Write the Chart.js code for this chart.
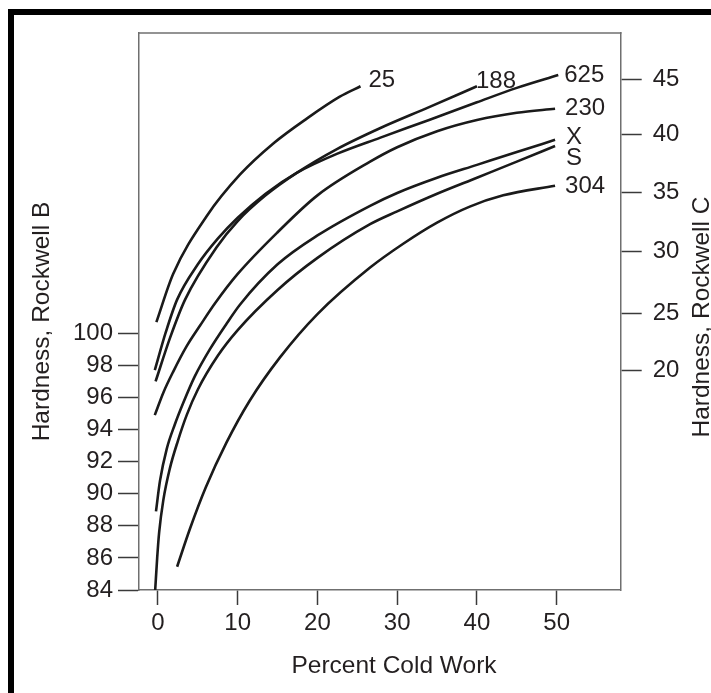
<!DOCTYPE html>
<html><head><meta charset="utf-8">
<script src="https://cdn.jsdelivr.net/npm/chart.js@4"></script>
<style>
html,body{margin:0;padding:0;background:#fff;overflow:hidden;width:711px;height:693px;}
#frame{position:absolute;left:8px;top:9px;width:800px;height:800px;border-left:6px solid #000;border-top:6px solid #000;}
#wrap{position:absolute;left:0;top:0;width:711px;height:693px;}
</style></head><body>
<div id="frame"></div>
<div id="wrap"><canvas id="c" width="711" height="693"></canvas></div>
<script>
// ---- data ----
const curveNames = ['25', '188', '625', '230', 'X', 'S', '304'];

const x25  = [-0.2, 1.9, 6.1, 10.3, 14.5, 18.7, 22.8, 25.4];
const y25  = [100.7, 103.7, 107.3, 109.9, 111.85, 113.4, 114.75, 115.4];

const x188 = [-0.3, 1.5, 3.4, 7.4, 10, 13.5, 17.4, 22.5, 27.9, 34, 40];
const y188 = [97.0, 99.7, 102.1, 105.4, 107.0, 108.6, 110.0, 111.5, 112.8, 114.1, 115.4];

const x625 = [-0.4, 1, 2.4, 5, 7.5, 10, 13.5, 17.4, 22.5, 27.9, 34, 40, 45, 50.2];
const y625 = [97.7, 100.1, 102.1, 104.3, 105.9, 107.2, 108.7, 110.0, 111.2, 112.2, 113.3, 114.4, 115.3, 116.1];

const x230 = [-0.4, 0.67, 1.9, 3.6, 5.3, 7.2, 10, 15, 20, 26.6, 30, 35, 40, 45, 49.8];
const y230 = [94.9, 96.3, 97.6, 99.2, 100.5, 101.9, 103.7, 106.3, 108.6, 110.7, 111.6, 112.6, 113.3, 113.75, 114.0];

const xX   = [-0.25, 0.25, 1.1, 2.1, 3.2, 4.6, 6.5, 8.6, 10.3, 15, 20, 26.6, 30, 35, 40, 45, 49.8];
const yX   = [88.9, 90.8, 92.8, 94.3, 95.7, 97.3, 99.0, 100.6, 101.8, 104.3, 106.1, 107.95, 108.75, 109.7, 110.5, 111.3, 112.06];

const xS   = [-0.35, -0.1, 0.15, 0.67, 1.5, 2.5, 3.6, 5, 7.5, 10, 15, 20, 26.6, 30, 35, 40, 45, 49.8];
const yS   = [84.0, 86.0, 87.6, 89.6, 91.6, 93.3, 94.9, 96.5, 98.6, 100.2, 102.7, 104.7, 106.8, 107.6, 108.7, 109.7, 110.7, 111.68];

const x304 = [2.4, 4, 6, 8.6, 11.5, 15.3, 20, 26.6, 30.8, 35, 39.1, 43.3, 49.8];
const y304 = [85.45, 87.8, 90.4, 93.2, 95.8, 98.5, 101.2, 104.1, 105.6, 106.9, 107.9, 108.6, 109.2];

const xTicks = [0, 10, 20, 30, 40, 50];
const leftTicks = [84, 86, 88, 90, 92, 94, 96, 98, 100];
const rightTickLabels = [20, 25, 30, 35, 40, 45];
const rightTickAtB = [97.67, 101.25, 105.09, 108.77, 112.37, 115.84]; // Rockwell B equivalents

const xTitle = 'Percent Cold Work';
const leftTitle = 'Hardness, Rockwell B';
const rightTitle = 'Hardness, Rockwell C';

const xMin = -2.38, xMax = 58.03, yMin = 84, yMax = 118.72;

// ---- styling ----
const FAMILY = '"Liberation Sans", Arial, Helvetica, sans-serif';
const TEXT = '#231f20';
const AXIS = '#6f6f6f';
const TICK = '#3a3a3a';
const LINE = '#1a1a1a';
const labelOffsets = [[8, -6], [-1, -5], [6, 0], [10, 0], [11, -2], [11, 12], [10, 1]];

const seriesX = [x25, x188, x625, x230, xX, xS, x304];
const seriesY = [y25, y188, y625, y230, yX, yS, y304];

const datasets = curveNames.map((name, i) => ({
  label: name,
  data: seriesX[i].map((x, j) => ({x: x, y: seriesY[i][j]})),
  borderColor: LINE,
  borderWidth: 2.6,
  pointRadius: 0,
  fill: false,
  cubicInterpolationMode: 'monotone',
  yAxisID: 'y'
}));

const overlay = {
  id: 'overlay',
  afterDraw(chart) {
    const {ctx, chartArea: a, scales} = chart;
    ctx.save();
    ctx.strokeStyle = AXIS; ctx.lineWidth = 1.5;
    ctx.beginPath(); ctx.moveTo(a.left - 0.75, a.top); ctx.lineTo(a.right + 0.75, a.top); ctx.stroke();

    ctx.fillStyle = TEXT;
    ctx.font = '24.5px ' + FAMILY;
    ctx.textAlign = 'center'; ctx.textBaseline = 'middle';
    ctx.fillText(xTitle, 394, 666);
    ctx.save(); ctx.translate(42, 321.5); ctx.rotate(-Math.PI / 2); ctx.fillText(leftTitle, 0, 0); ctx.restore();
    ctx.save(); ctx.translate(702, 317); ctx.rotate(-Math.PI / 2); ctx.fillText(rightTitle, 0, 0); ctx.restore();

    ctx.font = '24px ' + FAMILY;
    ctx.textAlign = 'left';
    chart.data.datasets.forEach((ds, i) => {
      const last = ds.data[ds.data.length - 1];
      const px = scales.x.getPixelForValue(last.x);
      const py = scales.y.getPixelForValue(last.y);
      ctx.fillText(curveNames[i], px + labelOffsets[i][0], py + labelOffsets[i][1]);
    });
    ctx.restore();
  }
};

const tickFont = {family: FAMILY, size: 24};

new Chart(document.getElementById('c'), {
  type: 'line',
  data: {datasets},
  options: {
    responsive: false,
    animation: false,
    devicePixelRatio: window.devicePixelRatio || 1,
    layout: {padding: {top: 33, left: 0, right: 0, bottom: 0}},
    plugins: {legend: {display: false}, tooltip: {enabled: false}},
    scales: {
      x: {
        type: 'linear', position: 'bottom', min: xMin, max: xMax,
        afterBuildTicks: s => { s.ticks = xTicks.map(v => ({value: v})); },
        afterFit: s => { s.height = 103; },
        ticks: {font: tickFont, color: TEXT, padding: 4, autoSkip: false, maxRotation: 0},
        grid: {display: true, drawOnChartArea: false, drawTicks: true, tickLength: 15, tickColor: TICK, tickWidth: 1.5},
        border: {display: true, color: AXIS, width: 1.5}
      },
      y: {
        type: 'linear', position: 'left', min: yMin, max: yMax,
        afterBuildTicks: s => { s.ticks = leftTicks.map(v => ({value: v})); },
        afterFit: s => { s.width = 139; },
        ticks: {font: tickFont, color: TEXT, padding: 5, autoSkip: false},
        grid: {display: true, drawOnChartArea: false, drawTicks: true, tickLength: 21, tickColor: TICK, tickWidth: 1.5},
        border: {display: true, color: AXIS, width: 1.5}
      },
      y2: {
        type: 'linear', position: 'right', min: yMin, max: yMax,
        afterBuildTicks: s => { s.ticks = rightTickAtB.map(v => ({value: v})); },
        afterFit: s => { s.width = 711 - 620.7; },
        ticks: {font: tickFont, color: TEXT, padding: 11, autoSkip: false, callback: (v, i) => String(rightTickLabels[i])},
        grid: {display: true, drawOnChartArea: false, drawTicks: true, tickLength: 21, tickColor: TICK, tickWidth: 1.5},
        border: {display: true, color: AXIS, width: 1.5}
      }
    }
  },
  plugins: [overlay]
});
</script>
</body></html>
